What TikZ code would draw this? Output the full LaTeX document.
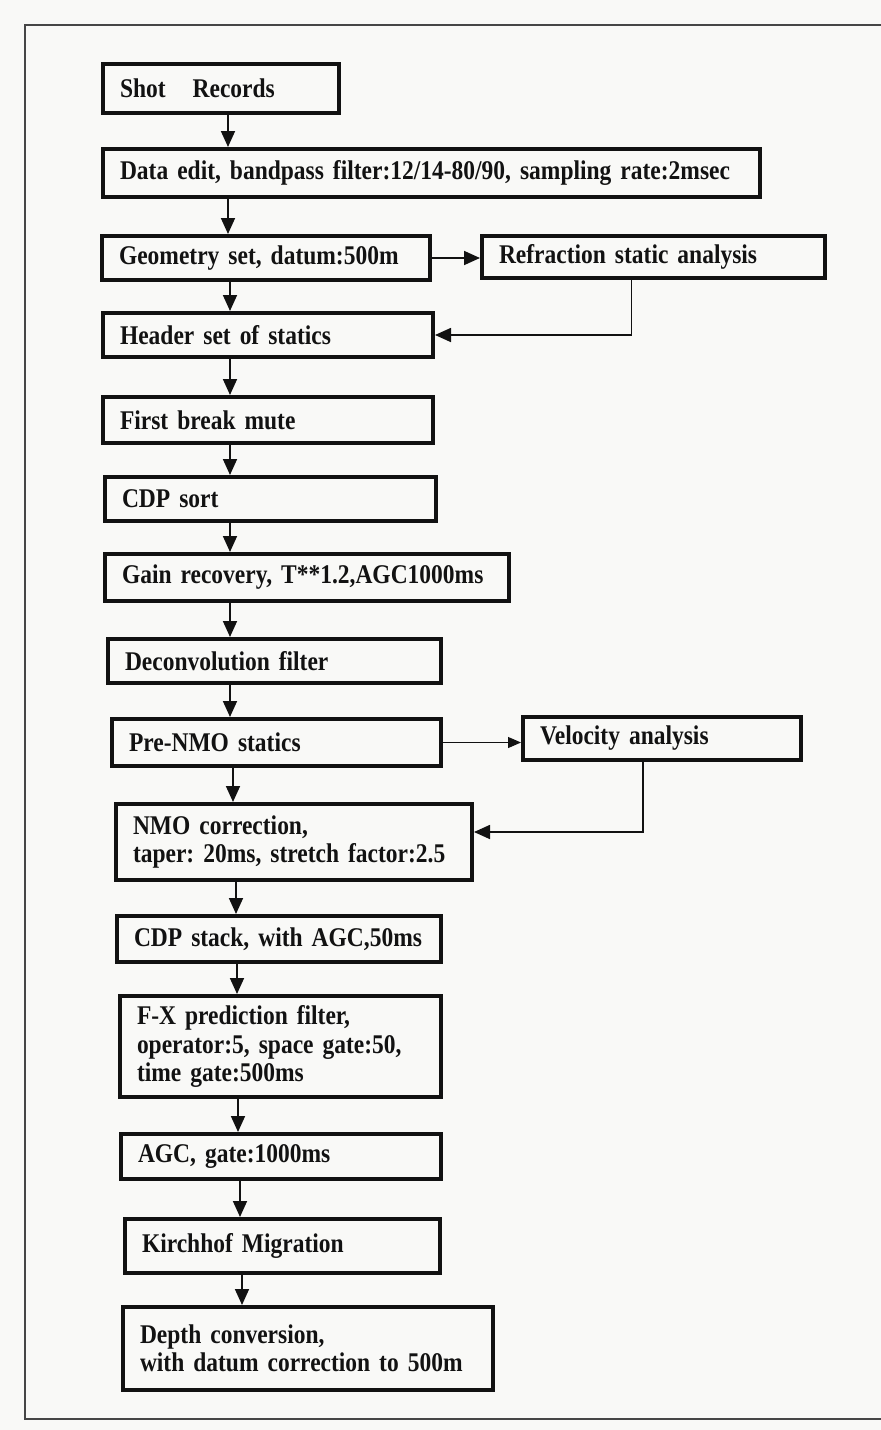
\documentclass[tikz,border=0pt]{standalone}
\usepackage{fontspec}
\setmainfont{Liberation Serif}[FakeStretch=0.87, WordSpace=0.7]
\usepackage{xcolor}
\usepackage{tikz}
\usetikzlibrary{positioning, arrows.meta, calc}
\definecolor{PaperGray}{RGB}{249,249,247}
\definecolor{InkBlack}{RGB}{18,18,18}
\definecolor{FrameGray}{RGB}{70,70,70}

\begin{document}
\begin{tikzpicture}[
  x=1pt, y=-1pt,
  font=\fontsize{27}{28.5}\selectfont\bfseries\frenchspacing,
  stage/.style={
    draw=InkBlack,
    line width=4pt,
    anchor=north west,
    align=left,
    inner xsep=17pt,
    inner ysep=0pt,
    text=InkBlack,
  },
  arr/.style={-{Triangle[length=16pt, width=14pt]}, line width=1.7pt, InkBlack},
  thinarr/.style={-{Triangle[length=13pt, width=11pt]}, line width=1.2pt, InkBlack},
  frame/.style={line width=1.6pt, FrameGray},
]
  \fill[PaperGray] (0,0) rectangle (881,1430);
  \useasboundingbox (0,0) rectangle (881,1430);

  % -------- outer frame (open on the right) --------
  \draw[frame] (881,25) -- (25,25) -- (25,1419) -- (881,1419);

  % -------- main column --------
  \node[stage, text width=202pt, minimum height=49pt] (N1) at (101,62)
    {Shot\hspace{1em}Records};
  \node[stage, text width=623pt, minimum height=48pt] (N2) at (101,147)
    {Data edit, bandpass filter:12/14-80/90, sampling rate:2msec};
  \node[stage, text width=294pt, minimum height=44pt] (N3) at (100,234)
    {Geometry set, datum:500m};
  \node[stage, text width=296pt, minimum height=44pt] (N4) at (101,311)
    {Header set of statics};
  \node[stage, text width=296pt, minimum height=46pt] (N5) at (101,395)
    {First break mute};
  \node[stage, text width=297pt, minimum height=44pt] (N6) at (103,475)
    {CDP sort};
  \node[stage, text width=370pt, minimum height=47pt] (N7) at (103,552)
    {Gain recovery, T**1.2,AGC1000ms};
  \node[stage, text width=299pt, minimum height=44pt] (N8) at (106,637)
    {Deconvolution filter};
  \node[stage, text width=295pt, minimum height=47pt] (N9) at (110,717)
    {Pre-NMO statics};
  \node[stage, text width=322pt, minimum height=76pt] (N10) at (114,802)
    {NMO correction,\\taper: 20ms, stretch factor:2.5};
  \node[stage, text width=290pt, minimum height=46pt] (N11) at (115,914)
    {CDP stack, with AGC,50ms};
  \node[stage, text width=287pt, minimum height=101pt] (N12) at (118,994)
    {F-X prediction filter,\\operator:5, space gate:50,\\time gate:500ms};
  \node[stage, text width=286pt, minimum height=45pt] (N13) at (119,1132)
    {AGC, gate:1000ms};
  \node[stage, text width=281pt, minimum height=54pt] (N14) at (123,1217)
    {Kirchhof Migration};
  \node[stage, text width=336pt, minimum height=83pt] (N15) at (121,1305)
    {Depth conversion,\\with datum correction to 500m};

  % -------- side analyses --------
  \node[stage, text width=309pt, minimum height=42pt] (R1) at (480,234)
    {Refraction static analysis};
  \node[stage, text width=244pt, minimum height=43pt] (R2) at (521,715)
    {Velocity analysis};

  % -------- vertical arrows --------
  \draw[arr] ([xshift=127pt]N1.south west) -- ([xshift=127pt]N1.south west |- N2.north);
  \draw[arr] ([xshift=127pt]N2.south west) -- ([xshift=127pt]N2.south west |- N3.north);
  \draw[arr] ([xshift=130pt]N3.south west) -- ([xshift=130pt]N3.south west |- N4.north);
  \draw[arr] ([xshift=129pt]N4.south west) -- ([xshift=129pt]N4.south west |- N5.north);
  \draw[arr] ([xshift=129pt]N5.south west) -- ([xshift=129pt]N5.south west |- N6.north);
  \draw[arr] ([xshift=127pt]N6.south west) -- ([xshift=127pt]N6.south west |- N7.north);
  \draw[arr] ([xshift=127pt]N7.south west) -- ([xshift=127pt]N7.south west |- N8.north);
  \draw[arr] ([xshift=124pt]N8.south west) -- ([xshift=124pt]N8.south west |- N9.north);
  \draw[arr] ([xshift=123pt]N9.south west) -- ([xshift=123pt]N9.south west |- N10.north);
  \draw[arr] ([xshift=122pt]N10.south west) -- ([xshift=122pt]N10.south west |- N11.north);
  \draw[arr] ([xshift=122pt]N11.south west) -- ([xshift=122pt]N11.south west |- N12.north);
  \draw[arr] ([xshift=120pt]N12.south west) -- ([xshift=120pt]N12.south west |- N13.north);
  \draw[arr] ([xshift=121pt]N13.south west) -- ([xshift=121pt]N13.south west |- N14.north);
  \draw[arr] ([xshift=119pt]N14.south west) -- ([xshift=119pt]N14.south west |- N15.north);

  % -------- side branches --------
  \draw[arr] (N3.east) -- (R1.west |- N3.east);
  \draw[arr] ([xshift=-22pt]R1.south) |- (N4.east);
  \draw[thinarr] (N9.east) -- (R2.west |- N9.east);
  \draw[arr] ([xshift=-19pt]R2.south) |- ([yshift=10pt]N10.east);
\end{tikzpicture}
\end{document}
